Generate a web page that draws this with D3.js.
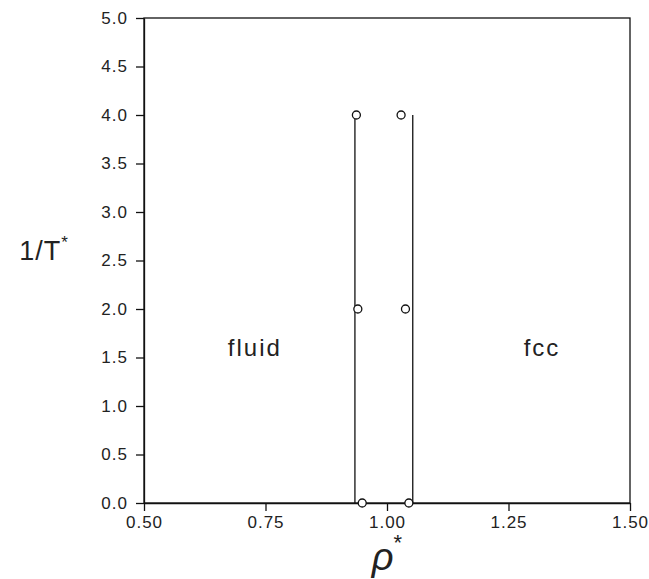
<!DOCTYPE html>
<html>
<head>
<meta charset="utf-8">
<script src="https://cdn.jsdelivr.net/npm/d3@7"></script>
<style>
	body { margin: 0; background: #fff; }
	svg text { font-family: "Liberation Sans", Arial, sans-serif; fill: #222; }
</style>
</head>
<body>
<div id="chart"></div>
<script>
// coexistence lines (theory)
var lineX = [0.934, 1.053];
var lineY = [0.0, 4.0];

// simulation points
var fluidRho = [0.937, 0.940, 0.949];
var fccRho = [1.029, 1.038, 1.045];
var invT = [4.0, 2.0, 0.0];

var xTicks = [0.50, 0.75, 1.00, 1.25, 1.50];
var yTicks = [0.0, 0.5, 1.0, 1.5, 2.0, 2.5, 3.0, 3.5, 4.0, 4.5, 5.0];

var phaseLabels = ["fluid", "fcc"];
var phaseX = [0.728, 1.319];
var phaseY = [1.6, 1.6];

var W = 649, H = 579;
var margin = { top: 18, right: 19, bottom: 76, left: 144 };
var width = W - margin.left - margin.right,
	height = H - margin.top - margin.bottom;

var svg = d3.select("#chart").append("svg")
	.attr("width", W)
	.attr("height", H);

var g = svg.append("g")
	.attr("transform", "translate(" + margin.left + "," + margin.top + ")");

var x = d3.scaleLinear().domain([0.5, 1.5]).range([0, width]);
var y = d3.scaleLinear().domain([0, 5]).range([height, 0]);

var xAxis = d3.axisBottom(x).tickValues(xTicks).tickSize(8).tickSizeOuter(0)
	.tickFormat(d3.format(".2f"));
var yAxis = d3.axisLeft(y).tickValues(yTicks).tickSize(8).tickSizeOuter(0)
	.tickFormat(d3.format(".1f"));

// frame
g.append("rect")
	.attr("width", width)
	.attr("height", height)
	.attr("fill", "none")
	.attr("stroke", "#111")
	.attr("stroke-width", 1.3);

var gx = g.append("g")
	.attr("transform", "translate(0," + height + ")")
	.call(xAxis);
var gy = g.append("g").call(yAxis);

[gx, gy].forEach(function (a) {
	a.select(".domain").attr("stroke", "#111").attr("stroke-width", 1.3);
	a.selectAll(".tick line").attr("stroke", "#111").attr("stroke-width", 1.3);
	a.selectAll(".tick text").attr("font-size", 17).attr("fill", "#222")
		.attr("letter-spacing", 1)
		.style("font-family", "Liberation Sans, Arial, sans-serif");
});
gx.selectAll(".tick text").attr("dy", "0.8em");
gy.selectAll(".tick text").attr("x", -16);

// vertical coexistence lines
lineX.forEach(function (lx) {
	g.append("line")
		.attr("x1", x(lx)).attr("x2", x(lx))
		.attr("y1", y(lineY[0])).attr("y2", y(lineY[1]))
		.attr("stroke", "#111")
		.attr("stroke-width", 1.3);
});

// points
function drawPoints(rho) {
	g.selectAll(null)
		.data(rho.map(function (r, i) { return [r, invT[i]]; }))
		.enter().append("circle")
		.attr("cx", function (d) { return x(d[0]); })
		.attr("cy", function (d) { return y(d[1]); })
		.attr("r", 4)
		.attr("fill", "#fff")
		.attr("stroke", "#111")
		.attr("stroke-width", 1.3);
}
drawPoints(fluidRho);
drawPoints(fccRho);

// phase labels
phaseLabels.forEach(function (t, i) {
	g.append("text")
		.attr("x", x(phaseX[i]))
		.attr("y", y(phaseY[i]))
		.attr("text-anchor", "middle")
		.attr("dy", "0.35em")
		.attr("font-size", 24)
		.attr("letter-spacing", 2)
		.text(t);
});

// axis titles
var xt = svg.append("text")
	.attr("x", margin.left + x(1.0))
	.attr("y", 570)
	.attr("text-anchor", "middle")
	.attr("font-size", 38);
xt.append("tspan").attr("font-style", "italic").text("\u03c1");
xt.append("tspan").attr("font-size", 22).attr("dy", -20).text("*");

var yt = svg.append("text")
	.attr("x", 44)
	.attr("y", 260)
	.attr("text-anchor", "middle")
	.attr("font-size", 27)
	.attr("letter-spacing", 1);
yt.append("tspan").text("1/T");
yt.append("tspan").attr("font-size", 17).attr("dy", -12).text("*");
</script>
</body>
</html>
